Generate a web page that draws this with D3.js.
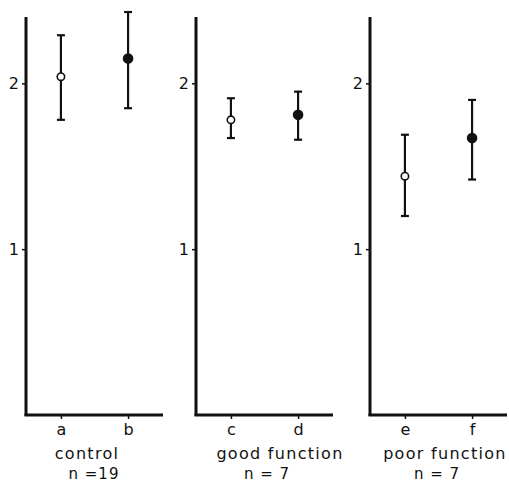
<!DOCTYPE html>
<html>
<head>
<meta charset="utf-8">
<script src="https://cdn.jsdelivr.net/npm/d3@7"></script>
<style>
  body { margin: 0; background: #fff; }
  text { font-family: "DejaVu Sans", sans-serif; fill: #111; }
</style>
</head>
<body>
<div id="chart"></div>
<script>
// groups shown side by side, each with an open (first) and filled (second) point
var groups = ["control", "good function", "poor function"];
var nLabels = ["n =19", "n = 7", "n = 7"];
var letters = [["a", "b"], ["c", "d"], ["e", "f"]];
var means = [[2.04, 2.15], [1.78, 1.81], [1.44, 1.67]];
var upper = [[2.29, 2.43], [1.91, 1.95], [1.69, 1.90]];
var lower = [[1.78, 1.85], [1.67, 1.66], [1.20, 1.42]];
var yTicks = [1, 2];

var width = 509, height = 485;
var panelLeft = [26, 196, 370],
    panelWidth = 137,
    plotTop = 17, plotBottom = 415;
// label centres relative to each panel's y axis
var nameX = [61, 84, 75],
    nX = [68, 71, 67];

var svg = d3.select("#chart")
  .append("svg")
    .attr("width", width)
    .attr("height", height);

// shared y scale
var y = d3.scaleLinear()
  .domain([0, 2.4])
  .range([plotBottom, plotTop]);

groups.forEach(function(name, i) {

  var g = svg.append("g")
    .attr("transform", "translate(" + panelLeft[i] + ",0)");

  var x = d3.scalePoint()
    .domain(letters[i])
    .range([0, panelWidth])
    .padding(0.52);

  // Y axis
  var yAxis = g.append("g")
    .call(d3.axisLeft(y).tickValues(yTicks).tickFormat(d3.format("d")).tickSize(4).tickPadding(3));
  yAxis.select(".domain").remove();
  yAxis.selectAll("line").attr("stroke", "#111").attr("stroke-width", 1.5);
  yAxis.selectAll("text").style("font-size", "16px").attr("fill", "#111");
  g.append("line")
    .attr("x1", 0).attr("x2", 0)
    .attr("y1", plotTop).attr("y2", plotBottom + 1)
    .attr("stroke", "#111").attr("stroke-width", 3);

  // X axis
  var xAxis = g.append("g")
    .attr("transform", "translate(0," + plotBottom + ")")
    .call(d3.axisBottom(x).tickSize(4).tickPadding(5));
  xAxis.select(".domain").remove();
  xAxis.selectAll("line").attr("stroke", "#111").attr("stroke-width", 1.5);
  xAxis.selectAll("text").style("font-size", "16px").attr("fill", "#111");
  g.append("line")
    .attr("x1", -1.5).attr("x2", panelWidth)
    .attr("y1", plotBottom).attr("y2", plotBottom)
    .attr("stroke", "#111").attr("stroke-width", 3);

  // group label and n
  g.append("text")
    .attr("text-anchor", "middle")
    .attr("x", nameX[i])
    .attr("y", 459)
    .style("font-size", "16px")
    .style("letter-spacing", "1.3px")
    .text(name);
  g.append("text")
    .attr("text-anchor", "middle")
    .attr("x", nX[i])
    .attr("y", 479)
    .style("font-size", "15px")
    .style("letter-spacing", "1px")
    .text(nLabels[i]);

  // error bars and points
  var pts = letters[i].map(function(l, j) {
    return { key: l, mean: means[i][j], hi: upper[i][j], lo: lower[i][j], filled: j === 1 };
  });

  var bars = g.append("g").selectAll("g")
    .data(pts)
    .enter()
    .append("g");

  bars.append("line")
    .attr("x1", function(d) { return x(d.key); })
    .attr("x2", function(d) { return x(d.key); })
    .attr("y1", function(d) { return y(d.hi); })
    .attr("y2", function(d) { return y(d.lo); })
    .attr("stroke", "#111").attr("stroke-width", 2.2);

  bars.selectAll(".cap")
    .data(function(d) { return [d.hi, d.lo].map(function(v) { return { key: d.key, v: v }; }); })
    .enter()
    .append("line")
      .attr("class", "cap")
      .attr("x1", function(d) { return x(d.key) - 4; })
      .attr("x2", function(d) { return x(d.key) + 4; })
      .attr("y1", function(d) { return y(d.v); })
      .attr("y2", function(d) { return y(d.v); })
      .attr("stroke", "#111").attr("stroke-width", 2.2);

  bars.append("circle")
    .attr("cx", function(d) { return x(d.key); })
    .attr("cy", function(d) { return y(d.mean); })
    .attr("r", function(d) { return d.filled ? 4.5 : 3.7; })
    .attr("fill", function(d) { return d.filled ? "#111" : "#fff"; })
    .attr("stroke", "#111")
    .attr("stroke-width", 1.6);
});
</script>
</body>
</html>
